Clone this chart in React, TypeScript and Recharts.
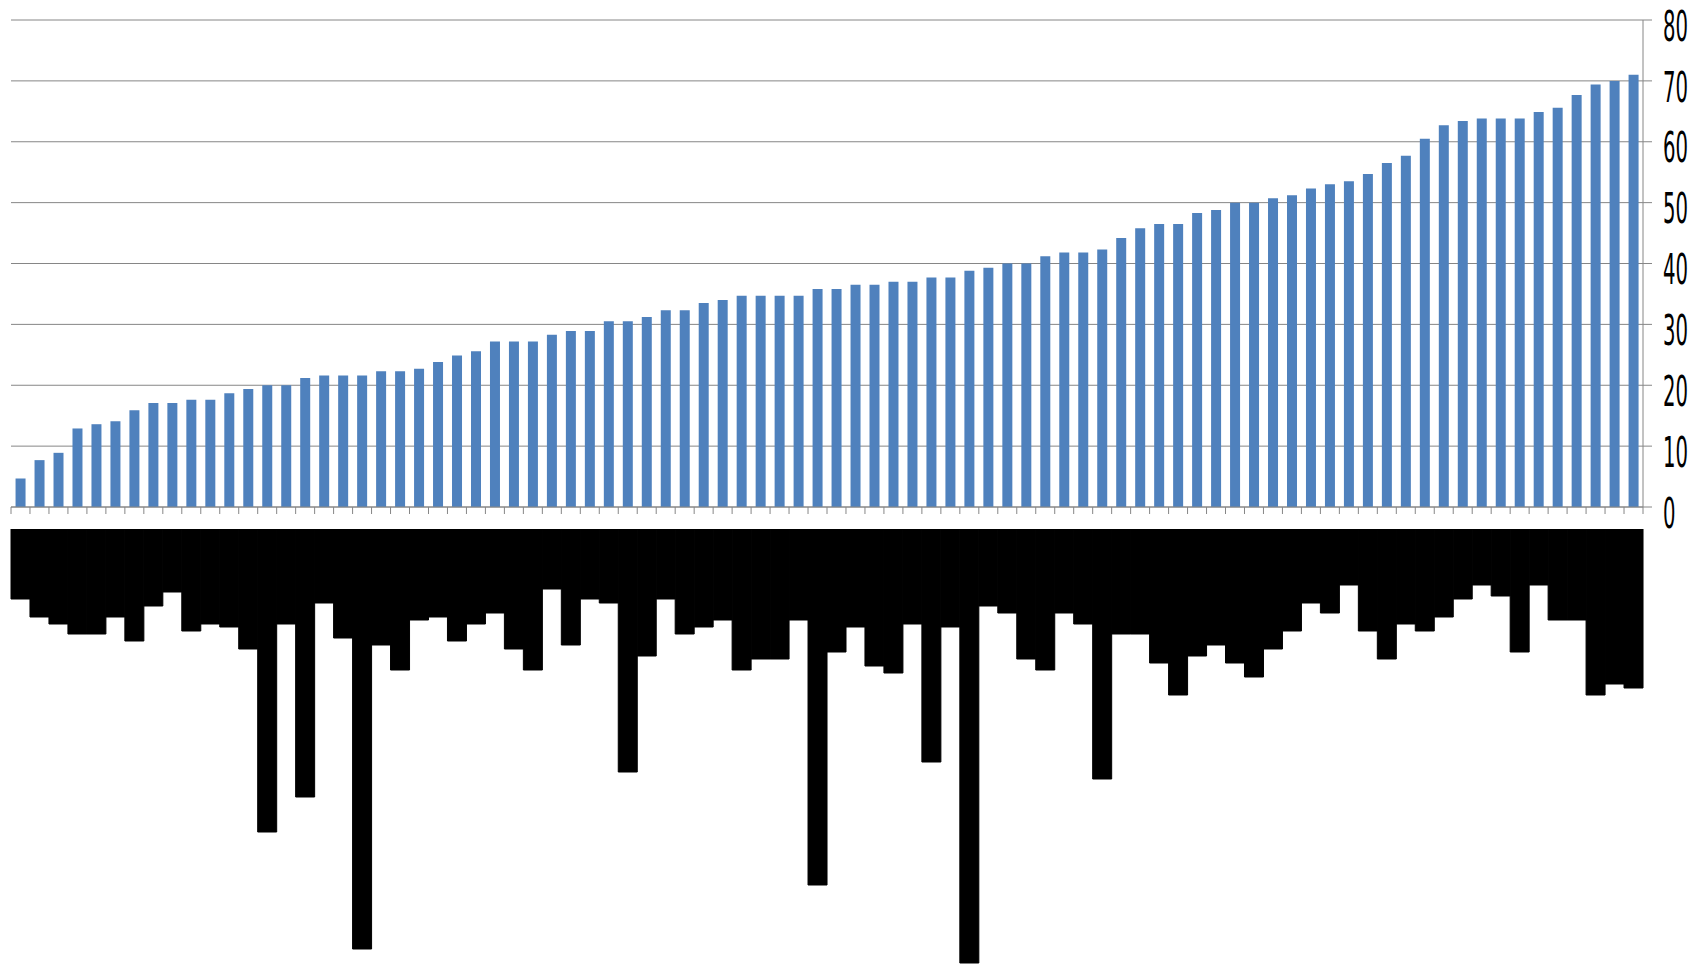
import React from "react";
import { BarChart, Bar, XAxis, YAxis, CartesianGrid } from "recharts";

// category ids (the original labels are blacked out in the source)
const categories = [
  "c01", "c02", "c03", "c04", "c05", "c06", "c07", "c08", "c09", "c10",
  "c11", "c12", "c13", "c14", "c15", "c16", "c17", "c18", "c19", "c20",
  "c21", "c22", "c23", "c24", "c25", "c26", "c27", "c28", "c29", "c30",
  "c31", "c32", "c33", "c34", "c35", "c36", "c37", "c38", "c39", "c40",
  "c41", "c42", "c43", "c44", "c45", "c46", "c47", "c48", "c49", "c50",
  "c51", "c52", "c53", "c54", "c55", "c56", "c57", "c58", "c59", "c60",
  "c61", "c62", "c63", "c64", "c65", "c66", "c67", "c68", "c69", "c70",
  "c71", "c72", "c73", "c74", "c75", "c76", "c77", "c78", "c79", "c80",
  "c81", "c82", "c83", "c84", "c85", "c86",
];

const values = [
  4.7, 7.7, 8.9, 12.9, 13.6, 14.1, 15.9, 17.1, 17.1, 17.6,
  17.6, 18.7, 19.4, 20, 20, 21.2, 21.6, 21.6, 21.6, 22.3,
  22.3, 22.7, 23.8, 24.9, 25.6, 27.2, 27.2, 27.2, 28.3, 28.9,
  28.9, 30.5, 30.5, 31.2, 32.3, 32.3, 33.5, 34.0, 34.7, 34.7,
  34.7, 34.7, 35.8, 35.8, 36.5, 36.5, 37.0, 37.0, 37.7, 37.7,
  38.8, 39.3, 40, 40, 41.2, 41.8, 41.8, 42.3, 44.2, 45.8,
  46.5, 46.5, 48.3, 48.8, 50, 50, 50.7, 51.2, 52.3, 53.0,
  53.5, 54.7, 56.5, 57.7, 60.5, 62.7, 63.4, 63.8, 63.8, 63.8,
  64.9, 65.6, 67.7, 69.4, 70.0, 71.0,
];

// length of each blacked-out category label (px below the black band top)
const labelLength = [
  70, 88, 95, 105, 105, 88, 112, 77, 63, 102,
  95, 98, 120, 303, 95, 268, 74, 109, 420, 116,
  141, 91, 88, 112, 95, 84, 120, 141, 60, 116,
  70, 74, 243, 127, 70, 105, 98, 91, 141, 130,
  130, 91, 356, 123, 98, 137, 144, 95, 233, 98,
  434, 77, 84, 130, 141, 84, 95, 250, 105, 105,
  134, 166, 127, 116, 134, 148, 120, 102, 74, 84,
  56, 102, 130, 95, 102, 88, 70, 56, 67, 123,
  56, 91, 91, 166, 155, 159,
];

const yTicks = [0, 10, 20, 30, 40, 50, 60, 70, 80];

const data = categories.map((name, i) => ({
  name,
  value: values[i],
  label: labelLength[i],
}));

const W = 1695;
const PLOT_L = 11;
const PLOT_R = 1643;
const PLOT_B = 507;
const BAND = (PLOT_R - PLOT_L) / categories.length;
const GRAY = "#868686";

const XTick = (props: any) => {
  const { x, index } = props;
  return (
    <g>
      <line x1={x - BAND / 2} x2={x - BAND / 2} y1={PLOT_B} y2={PLOT_B + 7} stroke={GRAY} />
      {index === categories.length - 1 && (
        <line x1={x + BAND / 2} x2={x + BAND / 2} y1={PLOT_B} y2={PLOT_B + 7} stroke={GRAY} />
      )}
    </g>
  );
};

// tall, narrow tick numbers like the original
const YTick = (props: any) => {
  const { y, payload } = props;
  const s = String(payload.value);
  return (
    <text
      transform={`translate(${PLOT_R + 20}, ${y + 6}) scale(1, 1.5)`}
      x={0}
      y={0}
      dominantBaseline="central"
      fontSize={28}
      fontFamily="'Liberation Sans Narrow', 'DejaVu Sans Condensed', 'Liberation Sans', sans-serif"
      fill="#000"
      textLength={12.5 * s.length}
      lengthAdjust="spacingAndGlyphs"
    >
      {s}
    </text>
  );
};

export default function App() {
  return (
    <div style={{ position: "fixed", left: 0, top: 0, width: W, height: 965, background: "#fff" }}>
      <div style={{ position: "absolute", left: 0, top: 0 }}>
        <BarChart
          width={W}
          height={540}
          data={data}
          margin={{ top: 20, right: 0, left: PLOT_L, bottom: 0 }}
          barCategoryGap="24%"
        >
          <CartesianGrid vertical={false} stroke={GRAY} strokeWidth={1} />
          <XAxis
            dataKey="name"
            height={33}
            interval={0}
            axisLine={{ stroke: GRAY }}
            tickLine={false}
            tick={<XTick />}
          />
          <YAxis
            orientation="right"
            width={W - PLOT_R}
            domain={[0, 80]}
            ticks={yTicks}
            interval={0}
            axisLine={{ stroke: GRAY }}
            tickLine={{ stroke: GRAY }}
            tickSize={9}
            tick={<YTick />}
          />
          <Bar dataKey="value" fill="#4F81BD" isAnimationActive={false} />
        </BarChart>
      </div>
      <div style={{ position: "absolute", left: 0, top: 529 }}>
        <BarChart
          width={W}
          height={436}
          data={data}
          margin={{ top: 0, right: W - PLOT_R, left: PLOT_L, bottom: 0 }}
          barCategoryGap={0}
          barGap={0}
        >
          <XAxis dataKey="name" hide />
          <YAxis hide reversed domain={[0, 436]} />
          <Bar dataKey="label" fill="#000" stroke="#000" strokeWidth={1} isAnimationActive={false} />
        </BarChart>
      </div>
    </div>
  );
}
